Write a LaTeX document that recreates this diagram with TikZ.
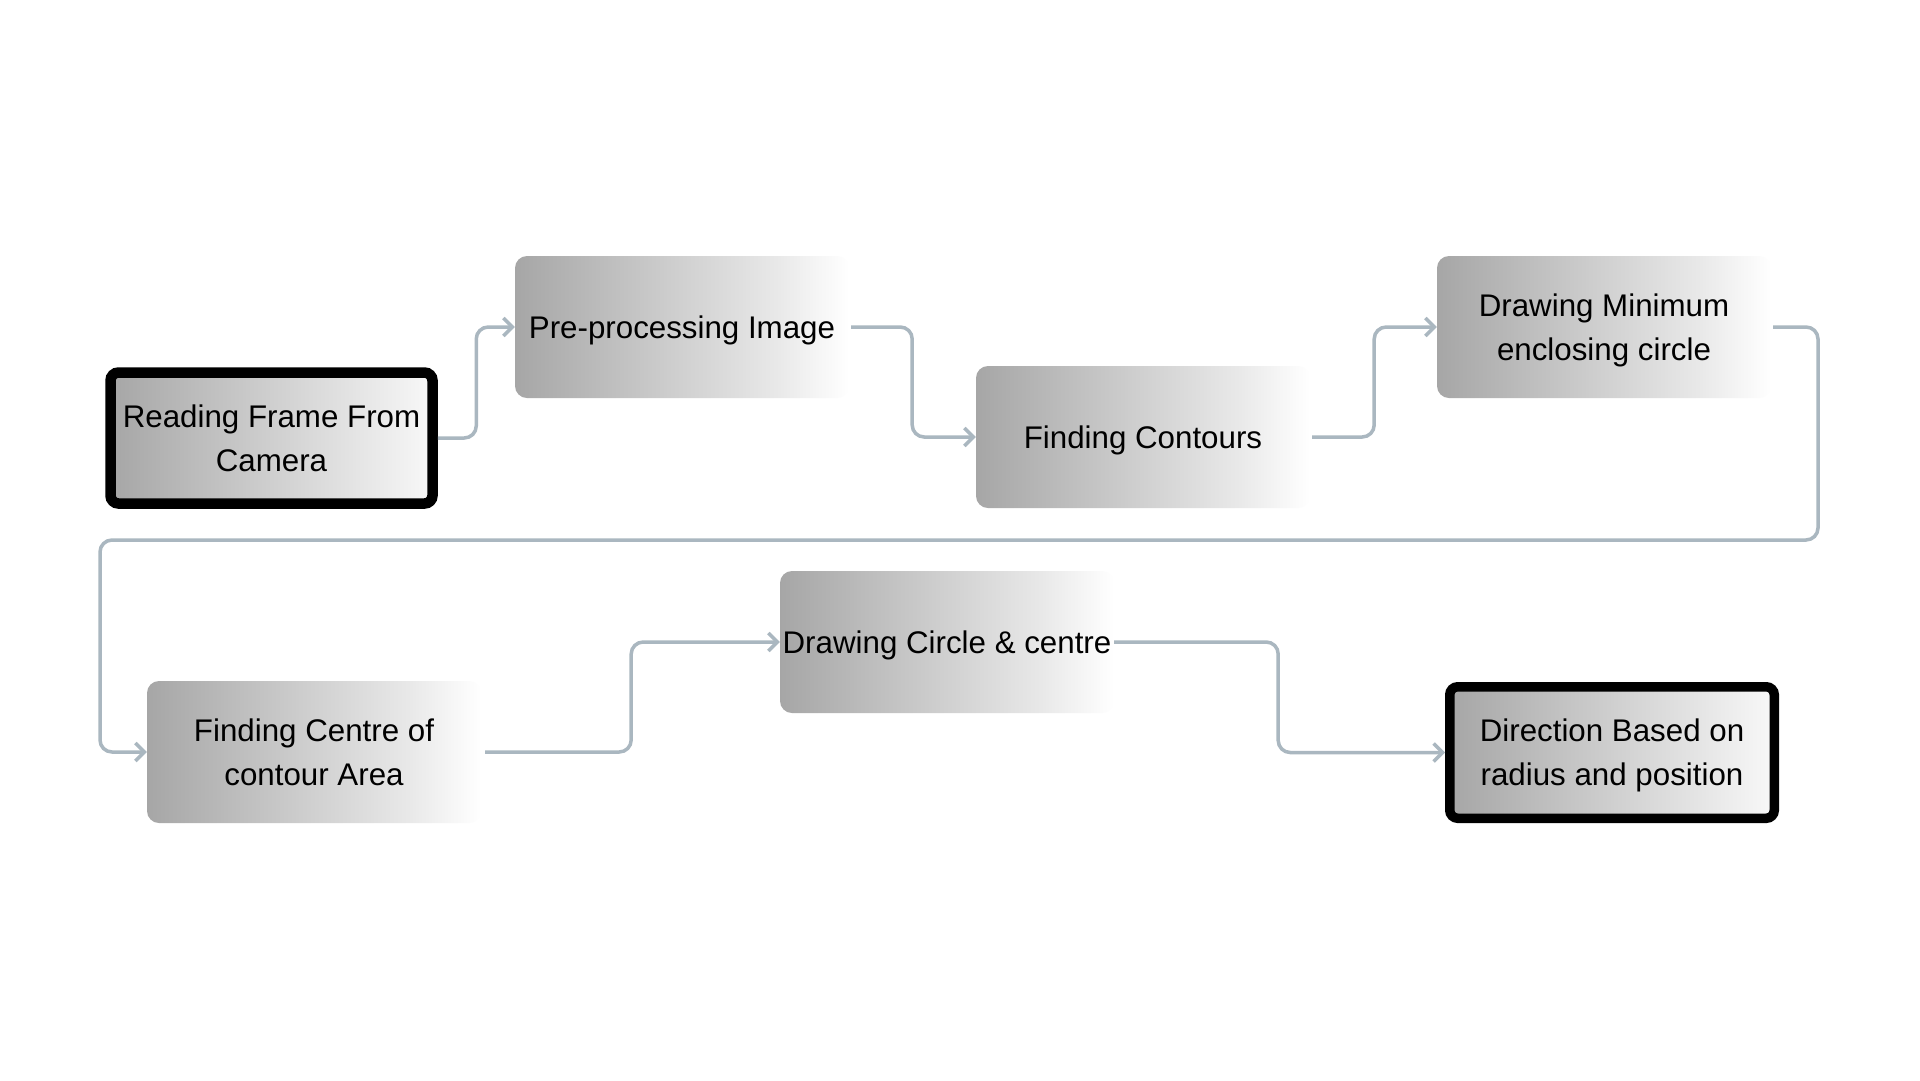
\documentclass[tikz,border=0pt]{standalone}
\usepackage{fontspec}
\setmainfont{Liberation Sans}
\usetikzlibrary{arrows.meta}
\definecolor{conn}{RGB}{170,183,192}
\definecolor{gdark}{RGB}{166,166,166}
\definecolor{gmid}{RGB}{232,232,232}
\definecolor{glight}{RGB}{248,248,248}
\pgfdeclarehorizontalshading{fadebox}{100bp}{color(0bp)=(gdark); color(25bp)=(gdark); color(64bp)=(gmid); color(75bp)=(white); color(100bp)=(white)}
\tikzset{
  boxfont/.style={font=\fontsize{31.3}{44}\selectfont, text depth=0pt},
  procbox/.style={rectangle, rounded corners=12pt, shading=fadebox, minimum width=334pt, minimum height=142pt, inner sep=0pt, align=center, text=black, boxfont},
  termbox/.style={rectangle, rounded corners=8pt, draw=black, line width=10.5pt, left color=gdark, right color=glight, minimum width=322pt, minimum height=131pt, inner sep=0pt, align=center, text=black, boxfont},
  flow/.style={draw=conn, line width=3.5pt, rounded corners=12pt, -{Straight Barb[length=9pt,width=18pt]}}
}
\begin{document}
\begin{tikzpicture}[x=1pt,y=-1pt]
\fill[white] (0,0) rectangle (1920,1080);
\useasboundingbox (0,0) rectangle (1920,1080);

\node[termbox] (b1) at (271.5,438) {Reading Frame From\\Camera};
\node[procbox] (b2) at (682,327) {Pre-processing Image};
\node[procbox] (b3) at (1143,437) {Finding Contours};
\node[procbox] (b4) at (1604,327) {Drawing Minimum\\enclosing circle};
\node[procbox] (b5) at (314,752) {Finding Centre of\\contour Area};
\node[procbox] (b6) at (947,642) {Drawing Circle \& centre};
\node[termbox, minimum width=324.5pt, minimum height=131.5pt, line width=9.5pt] (b7) at (1612,752.5) {Direction Based on\\radius and position};

\coordinate (r) at (1818,540);
\coordinate (l) at (100,540);

\draw[flow] (b1.east) -- ++(38.5,0) |- (b2.west);
\draw[flow] ([xshift=2pt]b2.east) -- ++(61,0) |- (b3.west);
\draw[flow] ([xshift=2pt]b3.east) -- ++(62,0) |- (b4.west);
\draw[flow] ([xshift=2pt]b4.east) -| (r) -- (l) |- (b5.west);
\draw[flow] ([xshift=4pt]b5.east) -- ++(146,0) |- (b6.west);
\draw[flow] (b6.east) -- ++(164,0) |- (b7.west);
\end{tikzpicture}
\end{document}
